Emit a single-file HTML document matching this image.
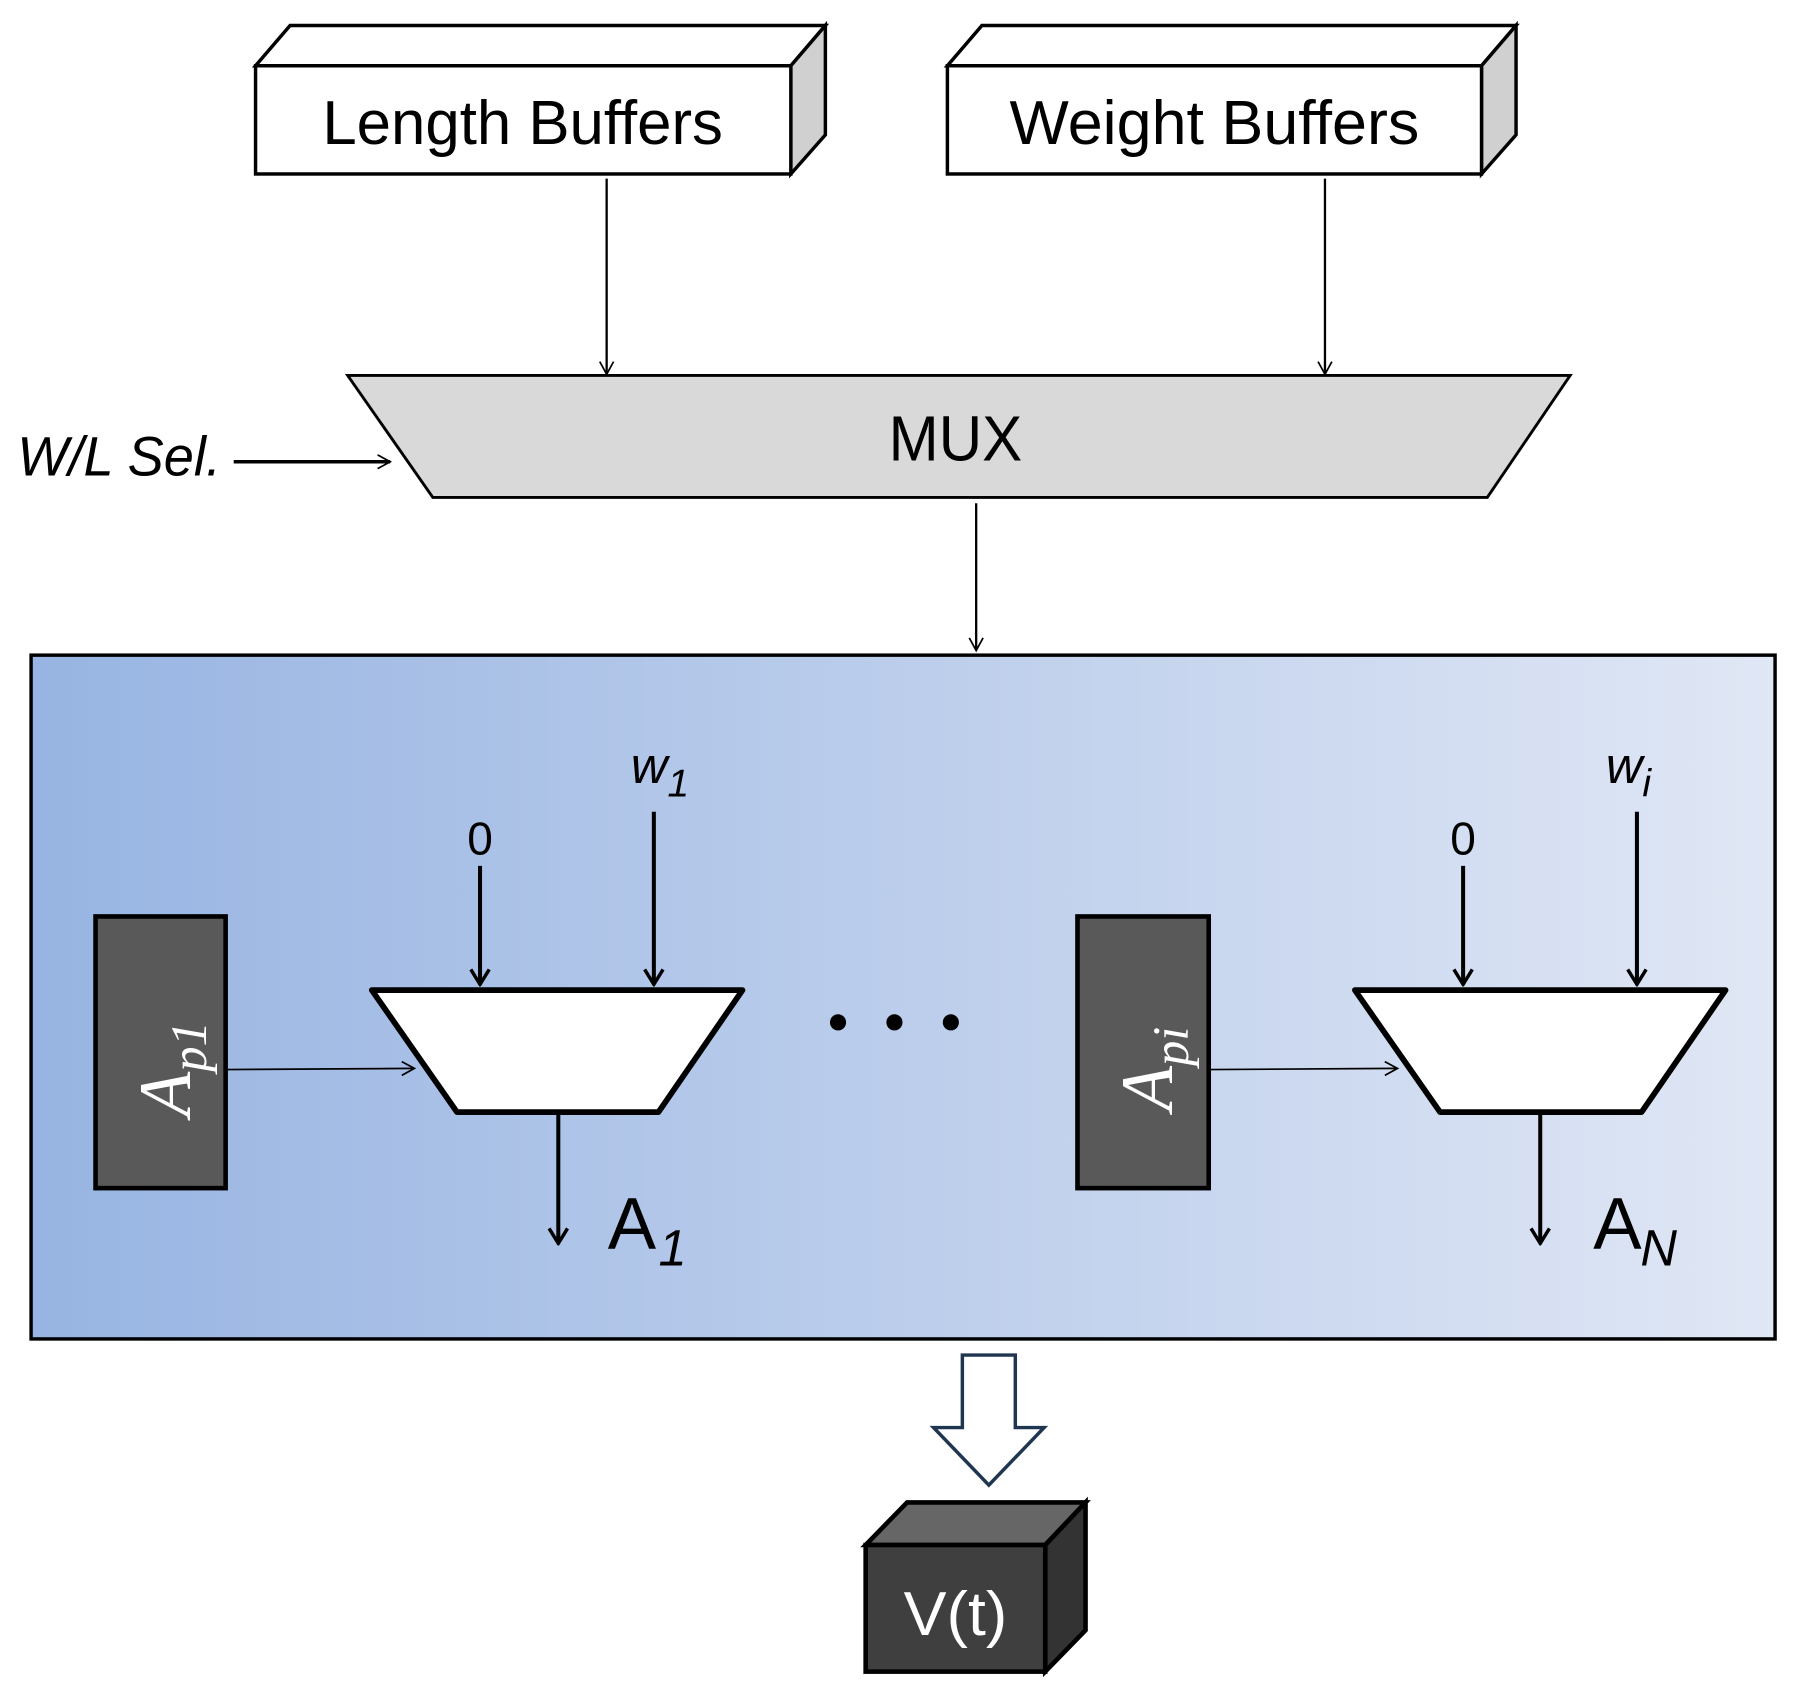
<!DOCTYPE html>
<html><head><meta charset="utf-8"><style>
html,body{margin:0;padding:0;background:#fff;}
svg{display:block;}
text{font-family:"Liberation Sans",sans-serif;}
</style></head><body>
<svg width="1805" height="1704" viewBox="0 0 1568 1480" xmlns="http://www.w3.org/2000/svg">
<defs>
<linearGradient id="g" x1="0" x2="1" y1="0" y2="0">
<stop offset="0" stop-color="#97b4e2"/><stop offset="1" stop-color="#e0e7f5"/>
</linearGradient>
<marker id="oa" markerWidth="14" markerHeight="14" refX="12" refY="7" orient="auto" markerUnits="userSpaceOnUse">
<path d="M1,1 L12,7 L1,13" fill="none" stroke="#000" stroke-width="1.5"/></marker>
<marker id="ta" markerWidth="16" markerHeight="20" refX="14" refY="10" orient="auto" markerUnits="userSpaceOnUse">
<path d="M1,2 L14,10 L1,18" fill="none" stroke="#000" stroke-width="3"/></marker>
</defs>
<polygon points="222,57 252,22 717,22 687,57" fill="#fff" stroke="#000" stroke-width="3"/>
<polygon points="687,57 717,22 717,117 687,151" fill="#d0d0d0" stroke="#000" stroke-width="3"/>
<rect x="222" y="57" width="465" height="94" fill="#fff" stroke="#000" stroke-width="3"/>
<text x="280" y="125" font-size="54" textLength="348" lengthAdjust="spacingAndGlyphs">Length Buffers</text>
<polygon points="823,57 853,22 1317,22 1287,57" fill="#fff" stroke="#000" stroke-width="3"/>
<polygon points="1287,57 1317,22 1317,117 1287,151" fill="#d0d0d0" stroke="#000" stroke-width="3"/>
<rect x="823" y="57" width="464" height="94" fill="#fff" stroke="#000" stroke-width="3"/>
<text x="877" y="125" font-size="54" textLength="356" lengthAdjust="spacingAndGlyphs">Weight Buffers</text>
<line x1="527" y1="155" x2="527" y2="325" stroke="#000" stroke-width="2" marker-end="url(#oa)"/>
<line x1="1151" y1="155" x2="1151" y2="325" stroke="#000" stroke-width="2" marker-end="url(#oa)"/>
<polygon points="302,326 1364,326 1292,432 376,432" fill="#d9d9d9" stroke="#000" stroke-width="2.5"/>
<text x="772" y="400" font-size="56" textLength="116" lengthAdjust="spacingAndGlyphs">MUX</text>
<text x="15" y="413" font-size="48" font-style="italic" textLength="177" lengthAdjust="spacingAndGlyphs">W/L Sel.</text>
<line x1="203" y1="401" x2="339" y2="401" stroke="#000" stroke-width="3" marker-end="url(#oa)"/>
<line x1="848" y1="437" x2="848" y2="565" stroke="#000" stroke-width="2" marker-end="url(#oa)"/>
<rect x="27" y="569" width="1515" height="594" fill="url(#g)" stroke="#000" stroke-width="3"/>
<rect x="83" y="796" width="113" height="236" fill="#595959" stroke="#000" stroke-width="4"/>
<text transform="translate(165,970) rotate(-90)" style="font-family:'Liberation Serif',serif" font-style="italic" font-size="64" fill="#fff">A<tspan font-size="44" dy="14">p1</tspan></text>
<line x1="197" y1="929" x2="360" y2="928" stroke="#000" stroke-width="1.5" marker-end="url(#oa)"/>
<polygon points="323,860 645,860 572,966 397,966" fill="#fff" stroke="#000" stroke-width="5" stroke-linejoin="round"/>
<text x="417" y="742" font-size="40" text-anchor="middle">0</text>
<line x1="417" y1="752" x2="417" y2="855" stroke="#000" stroke-width="3.5" marker-end="url(#ta)"/>
<text x="548" y="680" font-size="44" font-style="italic">w<tspan font-size="34" dy="12">1</tspan></text>
<line x1="568" y1="705" x2="568" y2="855" stroke="#000" stroke-width="3.5" marker-end="url(#ta)"/>
<line x1="485" y1="968" x2="485" y2="1080" stroke="#000" stroke-width="3.5" marker-end="url(#ta)"/>
<text x="528" y="1085" font-size="64" textLength="42" lengthAdjust="spacingAndGlyphs">A</text><text x="572" y="1099" font-size="44" font-style="italic">1</text>
<circle cx="728" cy="888" r="7"/><circle cx="777" cy="888" r="7"/><circle cx="826" cy="888" r="7"/>
<rect x="936" y="796" width="114" height="236" fill="#595959" stroke="#000" stroke-width="4"/>
<text transform="translate(1018,965) rotate(-90)" style="font-family:'Liberation Serif',serif" font-style="italic" font-size="64" fill="#fff">A<tspan font-size="44" dy="14">pi</tspan></text>
<line x1="1051" y1="929" x2="1214" y2="928" stroke="#000" stroke-width="1.5" marker-end="url(#oa)"/>
<polygon points="1177,860 1499,860 1426,966 1251,966" fill="#fff" stroke="#000" stroke-width="5" stroke-linejoin="round"/>
<text x="1271" y="742" font-size="40" text-anchor="middle">0</text>
<line x1="1271" y1="752" x2="1271" y2="855" stroke="#000" stroke-width="3.5" marker-end="url(#ta)"/>
<text x="1395" y="680" font-size="44" font-style="italic">w<tspan font-size="34" dy="12">i</tspan></text>
<line x1="1422" y1="705" x2="1422" y2="855" stroke="#000" stroke-width="3.5" marker-end="url(#ta)"/>
<line x1="1338" y1="968" x2="1338" y2="1080" stroke="#000" stroke-width="3.5" marker-end="url(#ta)"/>
<text x="1384" y="1085" font-size="64" textLength="42" lengthAdjust="spacingAndGlyphs">A</text><text x="1425" y="1099" font-size="44" font-style="italic">N</text>
<polygon points="836,1177 882,1177 882,1240 907,1240 859,1290 811,1240 836,1240" fill="#fff" stroke="#1f3550" stroke-width="3"/>
<polygon points="752,1342 788,1305 943,1305 908,1342" fill="#666" stroke="#000" stroke-width="4"/>
<polygon points="908,1342 943,1305 943,1416 908,1452" fill="#333" stroke="#000" stroke-width="4"/>
<rect x="752" y="1342" width="156" height="110" fill="#3f3f3f" stroke="#000" stroke-width="4"/>
<text x="785" y="1420" font-size="54" fill="#fff" textLength="90" lengthAdjust="spacingAndGlyphs">V(t)</text>
</svg>
</body></html>
